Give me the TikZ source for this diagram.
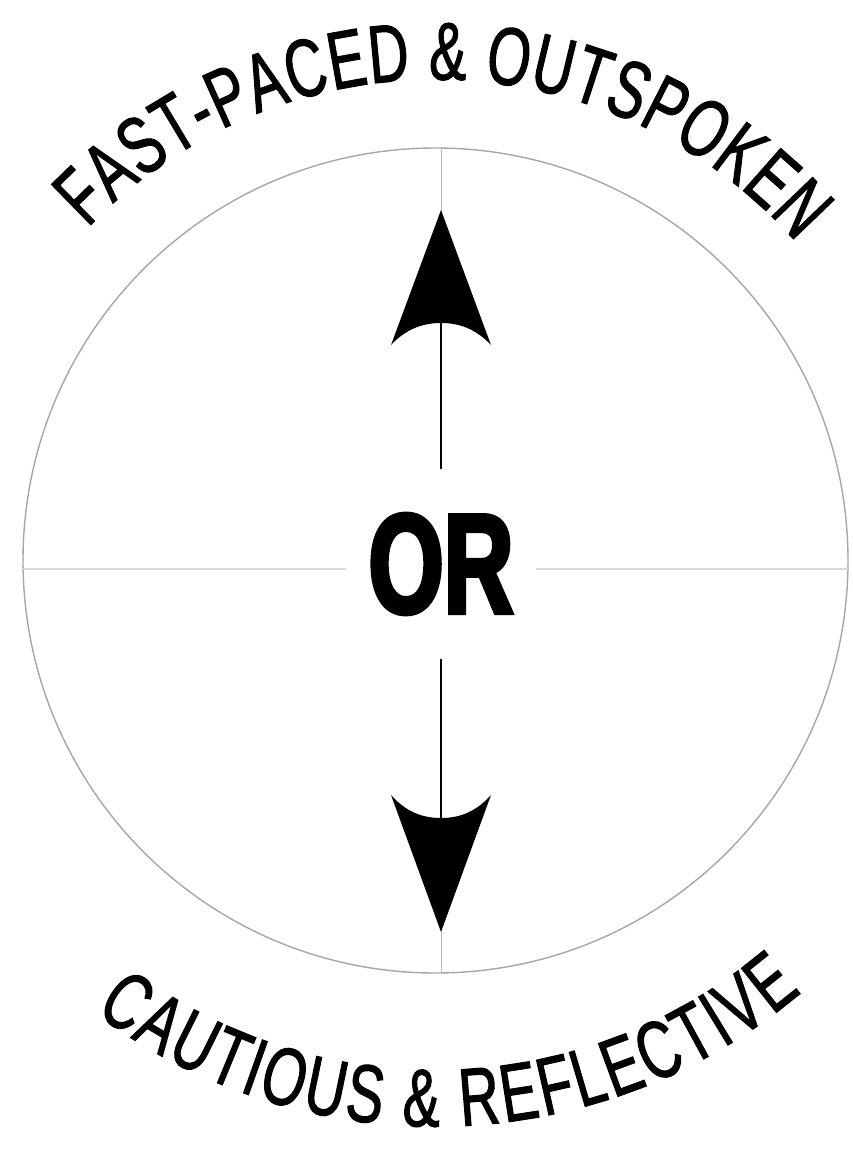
\documentclass[tikz,border=0pt]{standalone}
\usepackage{fontspec}
\usetikzlibrary{
  calc,
  decorations.text
}
\newfontfamily\arcfont[FakeStretch=0.68,FakeBold=1.3]{Liberation Sans}
\newfontfamily\orfont[FakeStretch=0.68,FakeBold=3]{Liberation Sans}

\begin{document}
\begin{tikzpicture}[
      x=1pt, y=1pt,
      ring/.style={draw=gray!70, line width=1.4pt},
      haxis/.style={draw=gray!30, line width=1.8pt},
      vaxis/.style={draw=gray!55, line width=0.9pt},
      stem/.style={draw=black, line width=1.6pt},
      head/.style={fill=black},
      ornode/.style={circle, fill=white, minimum size=190pt, inner sep=0pt,
                     font=\orfont\bfseries\fontsize{142}{150}\selectfont}
  ]
      \useasboundingbox (0,0) rectangle (853,-1153);

      % Kreis und Achsen
      \coordinate (c) at (435.5,-560.5);
      \coordinate (axtop) at (441,-148);
      \coordinate (axbot) at (441,-973);
      \coordinate (axleft) at (23,-569);
      \coordinate (axright) at (848,-569);

      \draw[ring] (c) circle[radius=412.5pt];
      \draw[haxis] (axleft) -- (axright);
      \draw[vaxis] (axtop) -- (axbot);

      \node[ornode] (or) at (441,-564) {OR};

      % Pfeile
      \coordinate (uptip) at (441,-210);
      \coordinate (upnotch) at (441,-323);
      \coordinate (downtip) at (441,-932);
      \coordinate (downnotch) at (441,-818);

      \draw[stem] (or) -- (upnotch);
      \draw[stem] (or) -- (downnotch);

      \fill[head] (uptip) -- ($(uptip)+(50,-135)$)
          .. controls ($(uptip)+(34,-118)$) and ($(uptip)+(17,-113)$) .. (upnotch)
          .. controls ($(uptip)+(-17,-113)$) and ($(uptip)+(-34,-118)$) .. ($(uptip)+(-50,-135)$)
          -- cycle;
      \fill[head] (downtip) -- ($(downtip)+(50,137)$)
          .. controls ($(downtip)+(34,119)$) and ($(downtip)+(17,114)$) .. (downnotch)
          .. controls ($(downtip)+(-17,114)$) and ($(downtip)+(-34,119)$) .. ($(downtip)+(-50,137)$)
          -- cycle;

      % Beschriftung auf den Boegen
      \path[decorate, decoration={text along path, text align=fit to path,
            text={|\arcfont\fontsize{82}{90}\selectfont|FAST-PACED {\&} OUTSPOKEN}}]
          ($(c)+(136.3:481pt)$) arc[start angle=136.3, end angle=41.4, radius=481pt];
      \path[decorate, decoration={text along path, text align=fit to path,
            text={|\arcfont\fontsize{82}{90}\selectfont|CAUTIOUS {\&} REFLECTIVE}}]
          ($(c)+(233:566pt)$) arc[start angle=233, end angle=310.3, radius=566pt];
  \end{tikzpicture}
\end{document}
